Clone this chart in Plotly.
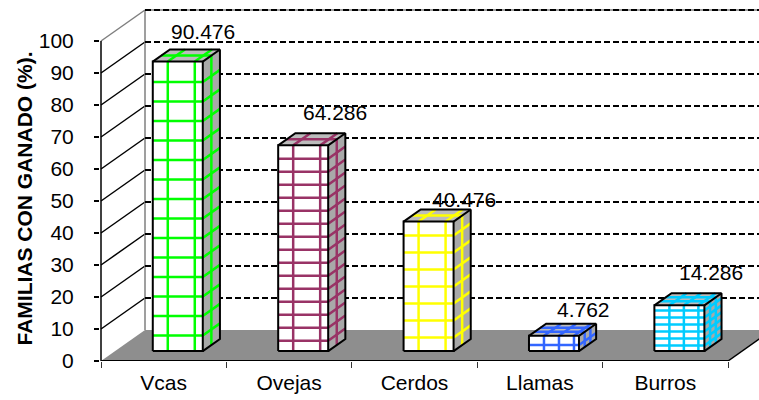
import plotly.graph_objects as go

# ---- data ----
categories = ["Vcas", "Ovejas", "Cerdos", "Llamas", "Burros"]
percent = [90.476, 64.286, 40.476, 4.762, 14.286]
y_tick_values = [0, 10, 20, 30, 40, 50, 60, 70, 80, 90, 100]

# ---- styling ----
grid_colors = ["#00ff00", "#993366", "#ffff00", "#3366ff", "#00ccff"]
col_step_px = [27, 27, 27, 15, 14.5]      # spacing of vertical lines in each bar's grid texture
row_step_px = [19.5, 13, 17, 7.5, 7]      # spacing of horizontal lines in each bar's grid texture
label_xshift = [39, 46, 49, 44, 46]       # value label nudges (pixels)
label_yshift = [40, 43, 32, 36, 43]

FONT = "Arial, Liberation Sans, sans-serif"
FS = 21
W, H = 759, 400
M_L, M_R, M_T, M_B = 100, 0, 0, 39
PX_X = 125.4          # pixels per category
PX_Y = 3.2            # pixels per percent point
plot_w = W - M_L - M_R
plot_h = H - M_T - M_B
x0 = -0.5 - 1 / PX_X
x1 = x0 + plot_w / PX_X
y1 = plot_h / PX_Y

# oblique projection of the depth axis
DDX = 44 / PX_X
DDY = 31 / PX_Y
FRONT_D, BACK_D = 0.32, 0.71
fx, fy = FRONT_D * DDX, FRONT_D * DDY
bx, by = BACK_D * DDX, BACK_D * DDY
half_w = 25 / PX_X

fig = go.Figure()
shapes = []


def seg(xa, ya, xb, yb, color, width, dash="solid"):
    shapes.append(dict(type="line", xref="x", yref="y", x0=xa, y0=ya, x1=xb, y1=yb,
                       line=dict(color=color, width=width, dash=dash), layer="below"))


# floor
left, right = -0.5, 4.5
shapes.append(dict(type="path", xref="x", yref="y", layer="below",
                   path=f"M {left},0 L {right},0 L {right + DDX},{DDY} L {left + DDX},{DDY} Z",
                   fillcolor="#8e8e8e", line=dict(width=0)))
seg(left, 0, right, 0, "black", 2)
seg(right, 0, right + DDX, DDY, "black", 1.5)

# side wall with its oblique gridlines, back wall with dashed gridlines
for v in y_tick_values[1:-1]:
    seg(left, v, left + DDX, v + DDY, "black", 1.5)
seg(left, 100, left + DDX, 100 + DDY, "#7f7f7f", 1.5)
seg(left + DDX, DDY, left + DDX, 100 + DDY, "#7f7f7f", 1.5)
seg(left + DDX, 100 + DDY, x1 + 1, 100 + DDY, "#7f7f7f", 1.5)
for v in y_tick_values[1:]:
    seg(left + DDX, v + DDY, x1 + 1, v + DDY, "black", 2, dash="6px,3px")
seg(left, 0, left, 100, "black", 1.5)

# 3-D bars
for i, (v, col, cs, rs) in enumerate(zip(percent, grid_colors, col_step_px, row_step_px)):
    xl, xr = i + fx - half_w, i + fx + half_w
    xlb, xrb = i + bx - half_w, i + bx + half_w
    yb0, ytop = fy, v + fy
    ybk, ytopb = by, v + by

    def face(xs, ys, fill):
        fig.add_trace(go.Scatter(x=xs, y=ys, mode="lines", fill="toself", fillcolor=fill,
                                 line=dict(width=0), hoverinfo="skip", showlegend=False))

    face([xl, xr, xr, xl, xl], [yb0, yb0, ytop, ytop, yb0], "white")
    face([xr, xrb, xrb, xr, xr], [yb0, ybk, ytopb, ytop, yb0], "#a9a9a9")
    face([xl, xr, xrb, xlb, xl], [ytop, ytop, ytopb, ytopb, ytop], "#bcbcbc")

    gx, gy = [], []
    face_w_px = 2 * half_w * PX_X
    face_h_px = v * PX_Y
    # vertical lines on front face, continued across the top face
    k = 15.0
    while k < face_w_px - 3:
        xk = xl + k / PX_X
        gx += [xk, xk, None, xk, xk + (bx - fx), None]
        gy += [yb0, ytop, None, ytop, ytopb, None]
        k += cs
    # horizontal lines on front face, continued obliquely along the side face
    h = 0.8 * rs
    while h < face_h_px - 3:
        yh = yb0 + h / PX_Y
        gx += [xl, xr, xrb, None]
        gy += [yh, yh, yh + (by - fy), None]
        h += rs
    # vertical lines on the side face
    side_w_px = (bx - fx) * PX_X
    n_side = int(side_w_px // cs) + 1
    for j in range(1, n_side + 1):
        t = j / (n_side + 1)
        xs_ = xr + t * (bx - fx)
        ys_ = yb0 + t * (by - fy)
        gx += [xs_, xs_, None]
        gy += [ys_, ys_ + v, None]
    # lines across the top face
    n_top = max(1, round(((by - fy) * PX_Y) / rs))
    for j in range(1, n_top + 1):
        t = j / (n_top + 1)
        gx += [xl + t * (bx - fx), xr + t * (bx - fx), None]
        gy += [ytop + t * (by - fy), ytop + t * (by - fy), None]
    fig.add_trace(go.Scatter(x=gx, y=gy, mode="lines", line=dict(color=col, width=2.5),
                             hoverinfo="skip", showlegend=False))

    # outline
    fig.add_trace(go.Scatter(
        x=[xl, xr, xr, xl, xl, None, xr, xrb, xrb, xr, None, xl, xlb, xrb],
        y=[yb0, yb0, ytop, ytop, yb0, None, yb0, ybk, ytopb, ytop, None, ytop, ytopb, ytopb],
        mode="lines", line=dict(color="black", width=2), hoverinfo="skip", showlegend=False))

    fig.add_annotation(x=i, y=v, xref="x", yref="y", text=f"{v:.3f}", showarrow=False,
                       xshift=label_xshift[i], yshift=label_yshift[i],
                       xanchor="center", yanchor="middle",
                       font=dict(family=FONT, size=FS, color="black"))

fig.add_annotation(xref="paper", yref="paper", x=(24 - M_L) / plot_w, y=(plot_h - 198.5) / plot_h,
                   xanchor="center", yanchor="middle",
                   text="<b>FAMILIAS CON GANADO (%).</b>", textangle=-90, showarrow=False,
                   font=dict(family=FONT, size=FS, color="black"))

fig.update_layout(
    width=W, height=H,
    margin=dict(l=M_L, r=M_R, t=M_T, b=M_B),
    paper_bgcolor="white", plot_bgcolor="white",
    shapes=shapes,
    xaxis=dict(range=[x0, x1], showgrid=False, zeroline=False, showline=False,
               tickmode="array", tickvals=list(range(len(categories))), ticktext=categories,
               ticks="", ticklabelstandoff=7,
               tickfont=dict(family=FONT, size=FS, color="black"),
               minor=dict(tickmode="array", tickvals=[k - 0.5 for k in range(len(categories) + 1)],
                          ticks="outside", ticklen=6, tickwidth=1, tickcolor="#333333")),
    yaxis=dict(range=[0, y1], showgrid=False, zeroline=False, showline=False,
               tickmode="array", tickvals=y_tick_values, ticks="outside", ticklen=5,
               tickwidth=1.5, tickcolor="black", ticklabelstandoff=16,
               tickfont=dict(family=FONT, size=FS, color="black")),
)

fig.write_html("out.html")
